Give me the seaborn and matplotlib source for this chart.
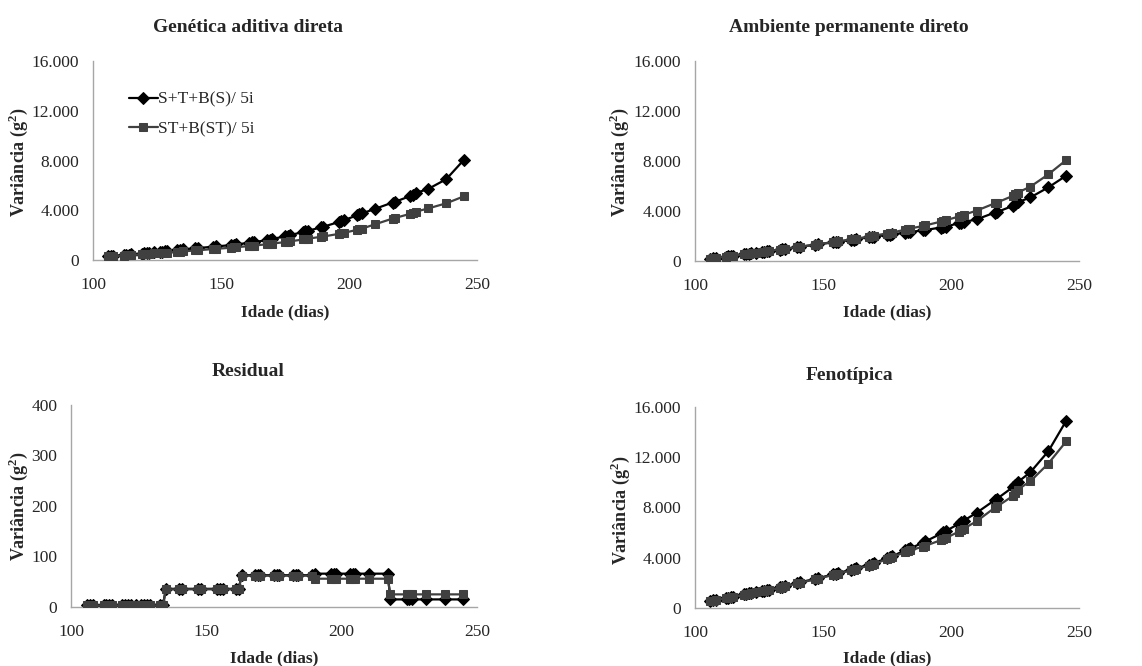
import matplotlib
matplotlib.use("Agg")
import matplotlib.pyplot as plt
from matplotlib.ticker import FuncFormatter
import seaborn as sns

# Ages (days) at which variances were estimated
ages = [106, 107, 108, 112, 113, 114, 115, 119, 120, 121, 122, 124, 126, 127, 128, 129,
        133, 134, 135, 140, 141, 147, 148, 154, 155, 156, 161, 162, 163, 168, 169, 170,
        175, 176, 177, 182, 183, 184, 189, 190, 196, 197, 198, 203, 204, 205, 210, 217,
        218, 224, 225, 226, 231, 238, 245]

label_a = "S+T+B(S)/ 5i"
label_b = "ST+B(ST)/ 5i"

# Genética aditiva direta
gen_a = [300, 310, 330, 390, 410, 430, 450, 520, 540, 560, 580, 620, 660, 680, 700, 720,
         800, 820, 850, 940, 960, 1070, 1090, 1200, 1230, 1260, 1380, 1410, 1440, 1600, 1640, 1690,
         1900, 1950, 2000, 2250, 2300, 2350, 2620, 2680, 3050, 3120, 3200, 3580, 3660, 3740, 4100, 4620,
         4680, 5150, 5250, 5380, 5720, 6500, 8080]
gen_b = [290, 300, 310, 360, 370, 385, 400, 450, 465, 480, 495, 525, 555, 570, 585, 600,
         660, 675, 690, 770, 785, 880, 895, 990, 1010, 1030, 1120, 1140, 1160, 1270, 1290, 1320,
         1440, 1470, 1500, 1650, 1690, 1720, 1860, 1890, 2100, 2140, 2180, 2420, 2470, 2520, 2860, 3330,
         3380, 3720, 3800, 3880, 4150, 4560, 5130]

# Ambiente permanente direto
amb_a = [200, 220, 240, 350, 380, 410, 440, 540, 560, 590, 620, 670, 720, 750, 780, 810,
         920, 950, 980, 1110, 1140, 1300, 1330, 1490, 1520, 1550, 1690, 1720, 1750, 1900, 1930, 1960,
         2080, 2110, 2140, 2260, 2290, 2320, 2450, 2480, 2680, 2720, 2760, 3020, 3070, 3120, 3330, 3870,
         3920, 4400, 4540, 4690, 5090, 5890, 6830]
amb_b = [200, 220, 240, 350, 380, 410, 440, 540, 560, 590, 620, 670, 720, 750, 780, 810,
         920, 950, 980, 1120, 1150, 1310, 1340, 1520, 1550, 1580, 1730, 1760, 1790, 1960, 2000, 2040,
         2200, 2240, 2280, 2500, 2550, 2600, 2800, 2850, 3150, 3200, 3260, 3560, 3630, 3700, 4030, 4610,
         4680, 5200, 5330, 5470, 5950, 6930, 8080]

# Residual (5 age classes)
res_a = [3, 3, 3, 3, 3, 3, 3, 3, 3, 3, 3, 3, 3, 3, 3, 3,
         3, 3, 36, 36, 36, 36, 36, 36, 36, 36, 36, 36, 63, 63, 63, 63,
         63, 63, 63, 63, 63, 63, 63, 66, 66, 66, 66, 66, 66, 66, 66, 66,
         15, 15, 15, 15, 15, 15, 15]
res_b = [3, 3, 3, 3, 3, 3, 3, 3, 3, 3, 3, 3, 3, 3, 3, 3,
         3, 3, 35, 35, 35, 35, 35, 35, 35, 35, 35, 35, 62, 62, 62, 62,
         62, 62, 62, 62, 62, 62, 62, 56, 56, 56, 56, 56, 56, 56, 56, 56,
         25, 25, 25, 25, 25, 25, 25]

# Fenotípica
fen_a = [560, 600, 640, 790, 830, 870, 910, 1080, 1120, 1160, 1200, 1270, 1340, 1380, 1420, 1460,
         1650, 1700, 1750, 2000, 2050, 2320, 2370, 2680, 2730, 2780, 3060, 3110, 3170, 3460, 3520, 3590,
         3960, 4040, 4110, 4590, 4660, 4740, 5200, 5300, 5910, 6020, 6130, 6700, 6830, 6960, 7580, 8580,
         8700, 9600, 9800, 10010, 10810, 12480, 14910]
fen_b = [550, 590, 630, 780, 820, 860, 900, 1060, 1100, 1140, 1180, 1250, 1320, 1360, 1400, 1440,
         1620, 1670, 1720, 1960, 2010, 2280, 2330, 2630, 2680, 2730, 3000, 3050, 3100, 3380, 3430, 3490,
         3900, 3970, 4040, 4450, 4520, 4590, 4880, 4950, 5400, 5480, 5570, 6080, 6200, 6320, 6910, 7970,
         8080, 8900, 9150, 9430, 10090, 11500, 13270]

panels = [
    ("Genética aditiva direta", gen_a, gen_b, [0, 4000, 8000, 12000, 16000]),
    ("Ambiente permanente direto", amb_a, amb_b, [0, 4000, 8000, 12000, 16000]),
    ("Residual", res_a, res_b, [0, 100, 200, 300, 400]),
    ("Fenotípica", fen_a, fen_b, [0, 4000, 8000, 12000, 16000]),
]

# axes rectangles (fig fraction) and text anchors (pixels)
axes_rects = [
    [0.0814, 0.6096, 0.3363, 0.2988],
    [0.6086, 0.6081, 0.3363, 0.3003],
    [0.0622, 0.0886, 0.3555, 0.3033],
    [0.6086, 0.0871, 0.3363, 0.3018],
]
title_pos = [(248, 28), (849, 28), (248, 372), (849, 375)]
ylabel_pos = [(18, 162), (619, 162), (18, 506), (620, 510)]
xlabel_pos = [(285, 312), (887, 312), (274, 658), (887, 658)]

W, H = 1142, 666

sns.set_style("white")
plt.rcParams["font.family"] = ["Liberation Serif", "DejaVu Serif"]
plt.rcParams["mathtext.fontset"] = "custom"
plt.rcParams["mathtext.rm"] = "Liberation Serif"
plt.rcParams["mathtext.bf"] = "Liberation Serif:bold"

fig = plt.figure(figsize=(W / 100, H / 100), dpi=100)


def thousands(v, pos):
    return f"{v:,.0f}".replace(",", ".")


for i, (title, ya, yb, yticks) in enumerate(panels):
    ax = fig.add_axes(axes_rects[i])
    sns.lineplot(x=ages, y=ya, ax=ax, color="black", marker="D", markersize=6,
                 markeredgecolor="black", linewidth=1.6, label=label_a, zorder=2)
    sns.lineplot(x=ages, y=yb, ax=ax, color="#404040", marker="s", markersize=5.5,
                 markeredgecolor="#404040", linewidth=1.6, label=label_b, zorder=3)
    ax.set_xlim(100, 250)
    ax.set_ylim(yticks[0], yticks[-1])
    ax.set_xticks([100, 150, 200, 250])
    ax.set_yticks(yticks)
    ax.yaxis.set_major_formatter(FuncFormatter(thousands))
    ax.tick_params(axis="both", length=0, labelsize=12.5)
    ax.tick_params(axis="x", pad=12)
    ax.tick_params(axis="y", pad=10)
    ax.set_xlabel("")
    ax.set_ylabel("")
    for side in ["top", "right"]:
        ax.spines[side].set_visible(False)
    for side in ["left", "bottom"]:
        ax.spines[side].set_color("#a6a6a6")
        ax.spines[side].set_linewidth(1.0)

    if i == 0:
        ax.legend(loc="upper left", bbox_to_anchor=(0.07, 0.89), frameon=False,
                  fontsize=12.5, handlelength=1.7, handletextpad=0.0,
                  labelspacing=0.75, borderpad=0)
    else:
        ax.get_legend().remove()

    tx, ty = title_pos[i]
    fig.text(tx / W, 1 - ty / H, title, ha="center", va="center",
             fontsize=14, fontweight="bold")
    lx, ly = ylabel_pos[i]
    fig.text(lx / W, 1 - ly / H, r"Variância (g$^{\mathbf{2}}$)", ha="center", va="center",
             rotation=90, fontsize=13, fontweight="bold")
    xx, xy = xlabel_pos[i]
    fig.text(xx / W, 1 - xy / H, "Idade (dias)", ha="center", va="center",
             fontsize=12.5, fontweight="bold")

fig.savefig("out.png", dpi=100)
